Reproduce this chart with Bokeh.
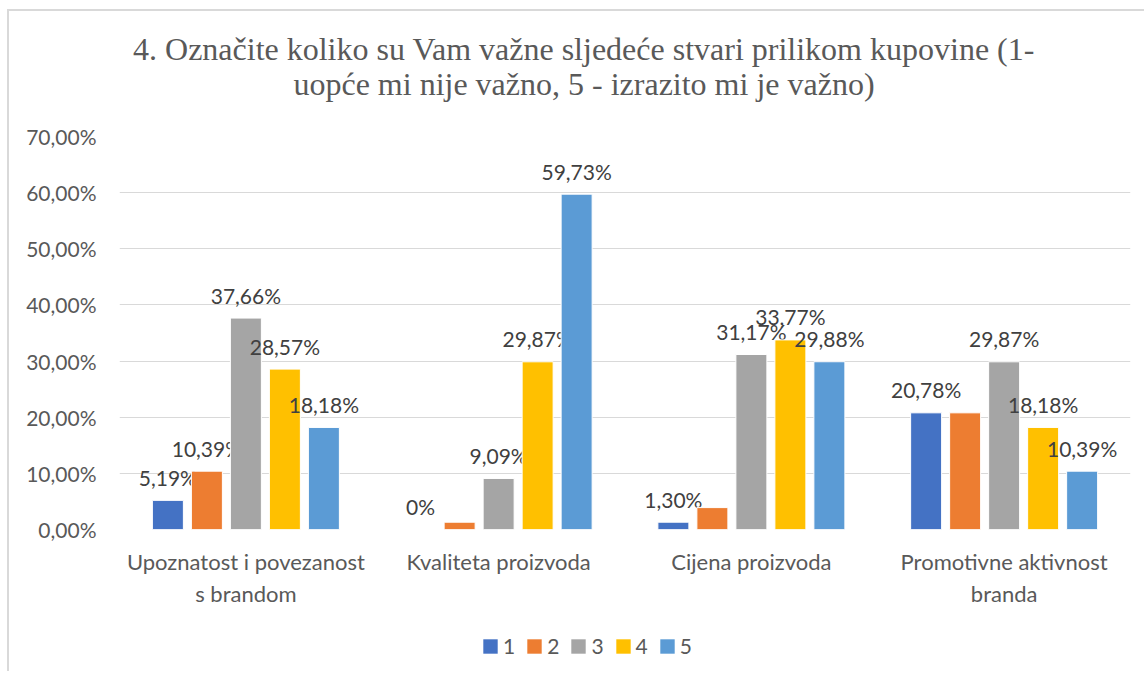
from bokeh.plotting import figure
from bokeh.layouts import column
from bokeh.models import (FactorRange, Range1d, ColumnDataSource, FixedTicker,
                          Label, Legend, LegendItem)
from bokeh.transform import dodge
from bokeh.core.properties import value
from bokeh.embed import file_html
from bokeh.resources import INLINE

# ---------------- data ----------------
categories = ["Upoznatost i povezanost\ns brandom", "Kvaliteta proizvoda",
              "Cijena proizvoda", "Promotivne aktivnost\nbranda"]
series_names = ["1", "2", "3", "4", "5"]
s1 = [5.19, 0.0, 1.30, 20.78]
s2 = [10.39, 1.30, 3.90, 20.78]
s3 = [37.66, 9.09, 31.17, 29.87]
s4 = [28.57, 29.87, 33.77, 18.18]
s5 = [18.18, 59.73, 29.88, 10.39]
series_values = [s1, s2, s3, s4, s5]
# which data labels are visible in the original chart
show1 = [True, True, True, True]
show2 = [True, False, False, False]
show3 = [True, True, True, True]
show4 = [True, True, True, True]
show5 = [True, True, True, True]
series_show = [show1, show2, show3, show4, show5]
y_ticks = [0, 10, 20, 30, 40, 50, 60, 70]
colors = ["#4472C4", "#ED7D31", "#A5A5A5", "#FFC000", "#5B9BD5"]

title_line1 = "4. Označite koliko su Vam važne sljedeće stvari prilikom kupovine (1-"
title_line2 = "uopće mi nije važno, 5 - izrazito mi je važno)"

FONT = "Lato"
SERIF = "Liberation Serif"
W = 1135
BL, BR = 110, 14   # side borders shared by all stacked figures


def fmt(v):
    if v == 0:
        return "0%"
    return f"{v:.2f}%".replace(".", ",")


def blank_fig(h):
    # x data coordinates equal pixels from the figure's left edge
    f = figure(width=W, height=h, x_range=Range1d(BL, W - BR), y_range=Range1d(0, h),
               title=None, output_backend="svg", toolbar_location=None,
               x_axis_location=None, y_axis_location=None,
               min_border_left=BL, min_border_right=BR,
               min_border_top=0, min_border_bottom=0)
    f.grid.grid_line_color = None
    f.outline_line_color = None
    f.border_fill_color = "white"
    f.background_fill_color = "white"
    return f


# ---------------- title ----------------
TH = 98
tf = blank_fig(TH)
for txt, ypos in ((title_line1, 61), (title_line2, 26)):
    tf.add_layout(Label(x=574.5, y=ypos, text=txt, text_align="center",
                        text_baseline="alphabetic", text_font=SERIF,
                        text_font_size="32px", text_color="#595959"))

# ---------------- main chart ----------------
p = figure(width=W, height=509, title=None,
           x_range=FactorRange(factors=categories, range_padding=0, factor_padding=0),
           y_range=Range1d(0, 70),
           output_backend="svg", toolbar_location=None,
           min_border_left=BL, min_border_right=BR,
           min_border_top=27, min_border_bottom=89)
p.outline_line_color = None
p.background_fill_color = "white"
p.border_fill_color = "white"

spacing = 39 / 252.75
bar_w = 31 / 252.75
offsets = [-2 * spacing, -spacing, 0, spacing, 2 * spacing]

for name, vals, show, col, off in zip(series_names, series_values, series_show, colors, offsets):
    src = ColumnDataSource(dict(cat=categories, val=vals,
                                lab=[fmt(v) if s else "" for v, s in zip(vals, show)]))
    p.vbar(x=dodge("cat", off, range=p.x_range), top="val", width=bar_w, source=src,
           fill_color=col, line_color="white", line_width=1)
    p.text(x=dodge("cat", off, range=p.x_range), y="val", text="lab", source=src,
           text_align="center", text_baseline="alphabetic", y_offset=-23,
           text_font=value(FONT), text_font_size="21px", text_color="#404040")

p.xgrid.grid_line_color = None
p.ygrid.grid_line_color = "#D9D9D9"
p.ygrid.grid_line_width = 1
p.yaxis.ticker = FixedTicker(ticks=y_ticks)
p.yaxis.major_label_overrides = {t: f"{t:.2f}%".replace(".", ",") for t in y_ticks}
for ax in (p.xaxis[0], p.yaxis[0]):
    ax.axis_line_color = None
    ax.major_tick_line_color = None
    ax.minor_tick_line_color = None
    ax.major_label_text_font = FONT
    ax.major_label_text_color = "#595959"
p.yaxis.major_label_text_font_size = "21px"
p.xaxis.major_label_text_font_size = "22px"
p.yaxis.major_label_standoff = 17
p.xaxis.major_label_standoff = 12

# ---------------- legend ----------------
LH = 53
lf = blank_fig(LH)
items = []
for name, col in zip(series_names, colors):
    # legend swatch renderer: zero-height bar kept outside the visible range
    r = lf.vbar(x=[-1000], top=[0], width=1, fill_color=col, line_color=None)
    items.append(LegendItem(label=name, renderers=[r]))
legend = Legend(items=items, orientation="horizontal", location=(362, 13),
                glyph_width=18, glyph_height=18, label_standoff=4, spacing=10,
                label_width=0, padding=0, margin=0, border_line_color=None,
                background_fill_alpha=0,
                label_text_font=FONT, label_text_font_size="21px",
                label_text_color="#595959")
lf.add_layout(legend)

layout = column(tf, p, lf, spacing=0)
layout.styles = {"margin-left": "7px", "margin-top": "9px",
                 "border-top": "2px solid #D9D9D9", "border-left": "2px solid #D9D9D9"}

open("out.html", "w").write(file_html(layout, INLINE))
